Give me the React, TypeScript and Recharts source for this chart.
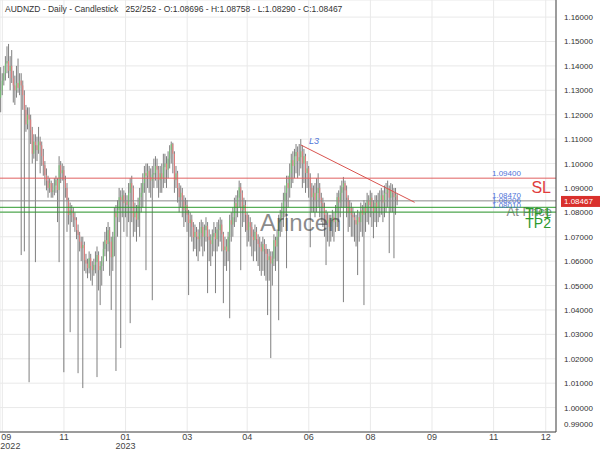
import React from "react";
import {
  ComposedChart,
  Bar,
  XAxis,
  YAxis,
  CartesianGrid,
  ReferenceLine,
} from "recharts";

// prices in pips over 1.00000 (1300 -> 1.13000)
const openPips = [
  1270, 1300, 1340, 1370, 1410, 1420, 1380, 1400, 1350, 1320,
  1300, 1330, 1310, 1340, 1320, 1280, 1220, 1160, 1200, 1180,
  1137, 1040, 1090, 1075, 1055, 1090, 1075, 1030, 993, 952,
  930, 900, 920, 883, 891, 910, 932, 891, 993, 960,
  973, 932, 900, 850, 789, 810, 797, 780, 768, 727,
  707, 680, 653, 666, 604, 590, 571, 612, 580, 563,
  585, 596, 625, 563, 580, 600, 650, 686, 670, 727,
  680, 616, 700, 797, 780, 810, 862, 850, 870, 838,
  845, 830, 880, 920, 900, 780, 800, 770, 830, 862,
  880, 920, 961, 950, 970, 944, 930, 955, 961, 990,
  975, 932, 960, 940, 985, 1000, 975, 1020, 1055, 1080,
  1040, 932, 960, 900, 862, 880, 850, 809, 830, 790,
  756, 770, 740, 698, 720, 700, 690, 715, 740, 700,
  727, 745, 700, 686, 670, 700, 715, 690, 730, 727,
  750, 710, 645, 660, 640, 700, 768, 750, 780, 838,
  820, 860, 903, 880, 809, 830, 790, 727, 760, 740,
  700, 686, 720, 690, 670, 657, 640, 670, 650, 630,
  604, 620, 590, 610, 686, 660, 700, 760, 780, 800,
  850, 880, 920, 900, 960, 1014, 990, 1030, 1047, 1010,
  1026, 1050, 1000, 1030, 961, 980, 940, 900, 862, 880,
  850, 879, 900, 860, 838, 820, 790, 756, 770, 740,
  760, 780, 760, 800, 862, 840, 880, 903, 920, 890,
  860, 797, 820, 790, 780, 768, 750, 780, 760, 809,
  790, 820, 800, 850, 830, 860, 821, 800, 840, 820,
  850, 850, 870, 840, 880, 879, 900, 860, 890, 880,
  862, 869.6,
];

const highPips = [
  1395, 1370, 1400, 1440, 1480, 1490, 1440, 1465, 1380, 1360,
  1400, 1430, 1370, 1370, 1340, 1300, 1240, 1230, 1230, 1200,
  1150, 1120, 1120, 1110, 1150, 1110, 1090, 1060, 1010, 980,
  950, 940, 930, 920, 940, 950, 940, 1030, 1010, 1000,
  990, 950, 920, 860, 840, 830, 820, 800, 780, 750,
  720, 700, 700, 680, 630, 610, 640, 630, 600, 610,
  640, 660, 640, 600, 620, 680, 720, 740, 760, 740,
  700, 720, 820, 830, 850, 900, 890, 900, 890, 880,
  870, 920, 940, 950, 910, 840, 830, 860, 900, 920,
  960, 990, 1000, 1000, 990, 980, 990, 1020, 1030, 1020,
  990, 990, 1000, 1040, 1040, 1030, 1050, 1075, 1090, 1085,
  1050, 990, 970, 920, 910, 900, 870, 860, 850, 810,
  800, 790, 760, 750, 740, 730, 760, 770, 760, 750,
  780, 760, 730, 710, 730, 760, 740, 760, 770, 780,
  770, 720, 700, 690, 720, 790, 800, 820, 860, 870,
  890, 930, 920, 890, 860, 850, 800, 790, 780, 760,
  730, 750, 740, 710, 700, 680, 700, 690, 670, 650,
  650, 640, 640, 710, 700, 730, 790, 810, 840, 880,
  910, 950, 950, 1000, 1040, 1050, 1060, 1080, 1070, 1080,
  1100, 1075, 1060, 1040, 1010, 990, 960, 920, 910, 920,
  940, 960, 920, 880, 860, 840, 810, 800, 790, 790,
  810, 800, 830, 880, 890, 910, 930, 945, 930, 910,
  870, 850, 840, 820, 800, 790, 810, 800, 840, 830,
  850, 840, 880, 870, 890, 880, 850, 870, 870, 880,
  890, 900, 890, 910, 920, 930, 910, 920, 915, 900,
  900, 875.8,
];

const lowPips = [
  1210, 1280, 1320, 1340, 1370, 1350, 1300, 1330, 1250, 1240,
  1270, 1290, 1280, 625, 1220, 640, 1130, 1140, 104, 1080,
  1000, 1020, 596, 1010, 1040, 960, 990, 950, 910, 890,
  860, 880, 860, 860, 870, 880, 760, 596, 920, 930,
  145, 860, 720, 750, 309, 760, 740, 720, 690, 141,
  640, 600, 80, 560, 550, 530, 550, 520, 500, 540,
  550, 125, 480, 420, 500, 560, 620, 600, 640, 540,
  400, 560, 620, 150, 700, 760, 244, 780, 720, 780,
  700, 760, 346, 760, 700, 720, 680, 740, 700, 800,
  820, 880, 563, 900, 880, 860, 440, 900, 930, 900,
  860, 880, 880, 900, 920, 900, 940, 980, 1000, 960,
  880, 900, 840, 800, 820, 780, 740, 760, 720, 461,
  700, 680, 640, 650, 620, 600, 640, 660, 620, 640,
  680, 469, 600, 580, 620, 640, 469, 640, 660, 680,
  640, 428, 580, 560, 600, 366, 680, 700, 740, 760,
  780, 820, 563, 740, 760, 720, 660, 680, 660, 620,
  600, 640, 600, 580, 560, 540, 560, 540, 520, 379,
  520, 203, 500, 580, 560, 600, 358, 700, 720, 740,
  780, 571, 820, 860, 900, 920, 940, 960, 940, 950,
  980, 900, 920, 880, 900, 860, 657, 800, 800, 780,
  800, 820, 780, 760, 740, 700, 584, 680, 660, 680,
  700, 680, 720, 740, 760, 780, 820, 432, 820, 780,
  720, 740, 700, 700, 680, 660, 543, 680, 720, 700,
  420, 720, 760, 750, 780, 740, 694, 760, 740, 760,
  780, 790, 760, 780, 800, 820, 633, 800, 800, 612,
  790, 829,
];

const closePips = [
  1300, 1340, 1370, 1410, 1420, 1380, 1400, 1350, 1320, 1300,
  1330, 1310, 1340, 1320, 1280, 1220, 1160, 1200, 1180, 1137,
  1040, 1090, 1075, 1055, 1090, 1075, 1030, 993, 952, 930,
  900, 920, 883, 891, 910, 932, 891, 993, 960, 973,
  932, 900, 850, 789, 810, 797, 780, 768, 727, 707,
  680, 653, 666, 604, 590, 571, 612, 580, 563, 585,
  596, 625, 563, 580, 600, 650, 686, 670, 727, 680,
  616, 700, 797, 780, 810, 862, 850, 870, 838, 845,
  830, 880, 920, 900, 780, 800, 770, 830, 862, 880,
  920, 961, 950, 970, 944, 930, 955, 961, 990, 975,
  932, 960, 940, 985, 1000, 975, 1020, 1055, 1080, 1040,
  932, 960, 900, 862, 880, 850, 809, 830, 790, 756,
  770, 740, 698, 720, 700, 690, 715, 740, 700, 727,
  745, 700, 686, 670, 700, 715, 690, 730, 727, 750,
  710, 645, 660, 640, 700, 768, 750, 780, 838, 820,
  860, 903, 880, 809, 830, 790, 727, 760, 740, 700,
  686, 720, 690, 670, 657, 640, 670, 650, 630, 604,
  620, 590, 610, 686, 660, 700, 760, 780, 800, 850,
  880, 920, 900, 960, 1014, 990, 1030, 1047, 1010, 1026,
  1050, 1000, 1030, 961, 980, 940, 900, 862, 880, 850,
  879, 900, 860, 838, 820, 790, 756, 770, 740, 760,
  780, 760, 800, 862, 840, 880, 903, 920, 890, 860,
  797, 820, 790, 780, 768, 750, 780, 760, 809, 790,
  820, 800, 850, 830, 860, 821, 800, 840, 820, 850,
  850, 870, 840, 880, 879, 900, 860, 890, 880, 862,
  869.6, 846.7,
];

const totalSlots = 352; // 252 bars + empty space to the right
const monthTicks = [1, 40, 79, 118, 156, 195, 234, 273, 312, 345];
const monthLabels = ["09", "11", "01", "03", "04", "06", "08", "09", "11", "12"];
const yearLabels = ["2022", "", "2023", "", "", "", "", "", "", ""];
const priceTicks = [
  0.99, 1.0, 1.01, 1.02, 1.03, 1.04, 1.05, 1.06, 1.07, 1.08, 1.09, 1.1, 1.11,
  1.12, 1.13, 1.14, 1.15, 1.16,
];

const slLevel = 1.094;
const priceLevel = 1.0847;
const tp1Level = 1.08206;
const tp2Level = 1.0801;
const lastClose = 1.08467;
const trendStart = { idx: 190, price: 1.1076 };
const trendEnd = { idx: 262, price: 1.0841 };

const FONT = "'Liberation Sans', Arial, sans-serif";
const toPrice = (p: number) => 1 + p / 10000;

const rows = Array.from({ length: totalSlots }, (_, i) => {
  if (i >= closePips.length) return { idx: i };
  const o = toPrice(openPips[i]);
  const h = toPrice(highPips[i]);
  const l = toPrice(lowPips[i]);
  const c = toPrice(closePips[i]);
  return { idx: i, o, h, l, c, range: [l, h] };
});

function Candle(props: any) {
  const { x, y, width, height, payload } = props;
  if (!payload || payload.o == null || !isFinite(y) || !isFinite(height)) return <g />;
  const top = Math.min(y, y + height);
  const span = Math.abs(height);
  const k = span / (payload.h - payload.l || 1);
  const cx = x + width / 2;
  const yO = top + (payload.h - payload.o) * k;
  const yC = top + (payload.h - payload.c) * k;
  const up = payload.c >= payload.o;
  return (
    <g>
      <line x1={cx} x2={cx} y1={top} y2={top + span} stroke="#707070" strokeWidth={0.9} />
      <rect
        x={cx - 0.5}
        y={Math.min(yO, yC)}
        width={1}
        height={Math.max(Math.abs(yO - yC), 0.8)}
        fill={up ? "#74c274" : "#e67c7c"}
      />
    </g>
  );
}

function PriceTick({ x, y, payload }: any) {
  const shift = payload.value <= 0.99 ? -8 : 0;
  return (
    <text x={x} y={y + shift} dy={3} fontSize={8} fill="#333" fontFamily={FONT} textAnchor="start">
      {Number(payload.value).toFixed(5)}
    </text>
  );
}

function MonthTick({ x, payload }: any) {
  const k = monthTicks.indexOf(payload.value);
  if (k < 0) return <g />;
  const first = k === 0;
  return (
    <g fontSize={9} fill="#444" fontFamily={FONT}>
      <text x={first ? x - 1 : x} y={440} textAnchor={first ? "start" : "middle"}>
        {monthLabels[k]}
      </text>
      {yearLabels[k] && (
        <text x={first ? x - 2 : x} y={449} textAnchor={first ? "start" : "middle"}>
          {yearLabels[k]}
        </text>
      )}
    </g>
  );
}

function levelLabel(text: string, dy: number, extra?: (vb: any) => React.ReactNode) {
  return (props: any) => {
    const vb = props.viewBox;
    return (
      <g fontFamily={FONT}>
        <text x={vb.x + 492} y={vb.y + dy} fontSize={8} fill="#4f74d9">
          {text}
        </text>
        {extra && extra(vb)}
      </g>
    );
  };
}

export default function App() {
  return (
    <div style={{ position: "absolute", left: 0, top: 0, width: 600, height: 450, background: "#fff" }}>
      <ComposedChart
        width={600}
        height={450}
        data={rows}
        margin={{ top: 0, right: 0, bottom: 0, left: 0 }}
        barCategoryGap="10%"
      >
        <CartesianGrid stroke="#e9e9e9" />
        <XAxis
          dataKey="idx"
          type="category"
          ticks={monthTicks}
          interval={0}
          height={18}
          tickLine={false}
          axisLine={{ stroke: "#444" }}
          tick={<MonthTick />}
        />
        <YAxis
          orientation="right"
          type="number"
          domain={[0.99, 1.167]}
          ticks={priceTicks}
          allowDataOverflow
          width={44}
          tickLine={false}
          axisLine={{ stroke: "#444" }}
          tick={<PriceTick />}
        />
        <ReferenceLine
          y={slLevel}
          stroke="#e06060"
          label={levelLabel("1.09400", -2, (vb) => (
            <text x={vb.x + vb.width - 5} y={vb.y + 15} fontSize={16} fill="#e03c3c" textAnchor="end">
              SL
            </text>
          ))}
        />
        <ReferenceLine
          y={priceLevel}
          stroke="#8a8a8a"
          label={levelLabel("1.08470", -3, (vb) => (
            <text x={vb.x + vb.width - 4} y={vb.y + 15} fontSize={13} fill="#888" textAnchor="end">
              At Price
            </text>
          ))}
        />
        <ReferenceLine
          y={tp1Level}
          stroke="#2e9a2e"
          label={levelLabel("1.08206", -4, (vb) => (
            <text x={vb.x + vb.width - 5} y={vb.y + 11} fontSize={14} fill="#2e9a2e" textAnchor="end">
              TP1
            </text>
          ))}
        />
        <ReferenceLine
          y={tp2Level}
          stroke="#2e9a2e"
          label={levelLabel("1.08010", -4, (vb) => (
            <text x={vb.x + vb.width - 5} y={vb.y + 16} fontSize={14} fill="#2e9a2e" textAnchor="end">
              TP2
            </text>
          ))}
        />
        <ReferenceLine
          segment={[
            { x: trendStart.idx, y: trendStart.price },
            { x: trendEnd.idx, y: trendEnd.price },
          ]}
          stroke="#d9534f"
          strokeWidth={1}
        />
        <ReferenceLine
          y={lastClose}
          stroke="none"
          strokeOpacity={0}
          label={(props: any) => {
            const vb = props.viewBox;
            const x0 = vb.x + vb.width + 5;
            return (
              <g fontFamily={FONT}>
                <rect x={x0} y={vb.y - 5} width={40} height={11} fill="#d9302c" />
                <text x={x0 + 3} y={vb.y + 3} fontSize={8} fill="#fff">
                  1.08467
                </text>
              </g>
            );
          }}
        />
        <Bar dataKey="range" shape={<Candle />} isAnimationActive={false} />
      </ComposedChart>
      <div
        style={{
          position: "absolute",
          left: 5,
          top: 4,
          fontFamily: FONT,
          fontSize: 8.5,
          color: "#333",
          whiteSpace: "pre",
          lineHeight: "11px",
        }}
      >
        {"AUDNZD - Daily - Candlestick   252/252 - O:1.08696 - H:1.08758 - L:1.08290 - C:1.08467"}
      </div>
      <div
        style={{
          position: "absolute",
          left: 309,
          top: 136,
          fontFamily: FONT,
          fontSize: 9,
          fontStyle: "italic",
          color: "#4f74d9",
        }}
      >
        L3
      </div>
      <div
        style={{
          position: "absolute",
          left: 260,
          top: 209,
          fontFamily: FONT,
          fontSize: 24,
          color: "rgba(60,60,60,0.6)",
          lineHeight: "28px",
        }}
      >
        Arincen
      </div>
    </div>
  );
}
